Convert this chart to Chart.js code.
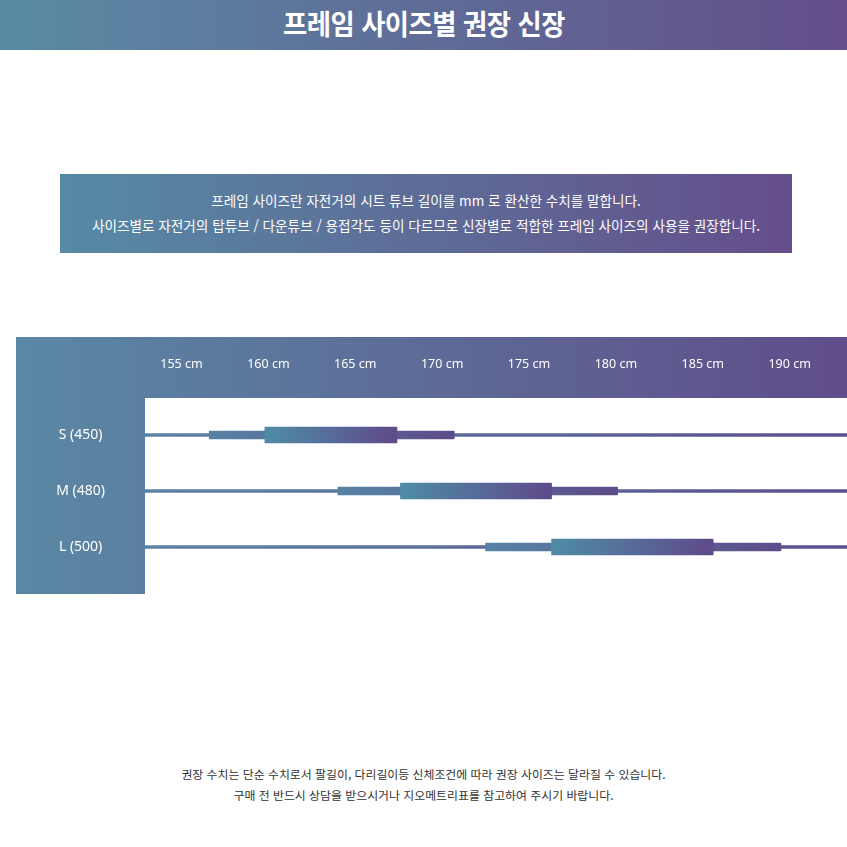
<!DOCTYPE html>
<html lang="ko">
<head>
<meta charset="utf-8">
<title>프레임 사이즈별 권장 신장</title>
<script src="https://cdn.jsdelivr.net/npm/chart.js@4.4.1/dist/chart.umd.min.js"></script>
<style>
  html, body { margin: 0; padding: 0; width: 847px; height: 847px; overflow: hidden; background: #fff;
    font-family: "Noto Sans CJK KR", "Noto Sans", sans-serif; }
  .title-bar { position: absolute; left: 0; top: 0; width: 847px; height: 50px;
    background: linear-gradient(90deg, #5a8ba4, #644e8a); color: #fff; font-weight: 700;
    font-size: 28px; line-height: 46px; text-align: center; }
  .title-bar span { display: inline-block; transform: scaleX(0.94); letter-spacing: -0.5px; }
  .info { position: absolute; left: 60px; top: 174px; width: 732px; height: 79px;
    background: linear-gradient(90deg, #568aa4, #654e8b); color: #fff; font-size: 13.6px; }
  .info p { position: absolute; left: 0; right: 0; margin: 0; text-align: center; line-height: 16px; }
  .chart-wrap { position: absolute; left: 16px; top: 337px; width: 831px; height: 257px; }
  .note { position: absolute; left: 0; width: 847px; top: 763px; text-align: center; color: #333;
    font-size: 11.9px; line-height: 21px; }
</style>
</head>
<body>
<div class="title-bar"><span>프레임 사이즈별 권장 신장</span></div>
<div class="info">
  <p style="top:18px">프레임 사이즈란 자전거의 시트 튜브 길이를 mm 로 환산한 수치를 말합니다.</p>
  <p style="top:43px">사이즈별로 자전거의 탑튜브 / 다운튜브 / 용접각도 등이 다르므로 신장별로 적합한 프레임 사이즈의 사용을 권장합니다.</p>
</div>
<div class="chart-wrap"><canvas id="sizeChart" width="831" height="257"></canvas></div>
<div class="note">
  권장 수치는 단순 수치로서 팔길이, 다리길이등 신체조건에 따라 권장 사이즈는 달라질 수 있습니다.<br>
  구매 전 반드시 상담을 받으시거나 지오메트리표를 참고하여 주시기 바랍니다.
</div>
<script>
// 사이즈별 권장 신장 (cm)
const sizes = ['S (450)', 'M (480)', 'L (500)'];
const heightTicks = [155, 160, 165, 170, 175, 180, 185, 190];
const axisRange = [152.9, 193.3];
const coreRange = [[159.8, 167.4], [167.6, 176.3], [176.3, 185.6]]; // 굵은 막대
const wideRange = [[156.6, 170.7], [164.0, 180.1], [172.5, 189.5]]; // 중간 막대
const baseLine = sizes.map(() => axisRange); // 가는 선

const BAND_HEIGHT = 61; // 위쪽 눈금 띠 높이

// 막대마다 왼쪽->오른쪽 그라데이션
function barGradient(from, to) {
    return function (context) {
        const chart = context.chart;
        const raw = context.raw;
        if (!chart.chartArea || !raw) return from;
        const xs = chart.scales.x;
        const g = chart.ctx.createLinearGradient(xs.getPixelForValue(raw[0]), 0, xs.getPixelForValue(raw[1]), 0);
        g.addColorStop(0, from);
        g.addColorStop(1, to);
        return g;
    };
}

// 배경: 그라데이션 틀 + 흰색 그래프 영역
const frameBackground = {
    id: 'frameBackground',
    beforeDraw(chart) {
        const { ctx, width, height, chartArea } = chart;
        const g = ctx.createLinearGradient(0, 0, width, 0);
        g.addColorStop(0, '#5a88a4');
        g.addColorStop(1, '#604d8a');
        ctx.save();
        ctx.fillStyle = g;
        ctx.fillRect(0, 0, width, height);
        ctx.fillStyle = '#ffffff';
        ctx.fillRect(chartArea.left, BAND_HEIGHT, width - chartArea.left, height - BAND_HEIGHT);
        ctx.restore();
    }
};

const ctx = document.getElementById('sizeChart').getContext('2d');
new Chart(ctx, {
    type: 'bar',
    data: {
        labels: sizes,
        datasets: [
            { data: coreRange, barThickness: 16, backgroundColor: barGradient('#4e8ca6', '#5f4a8a') },
            { data: wideRange, barThickness: 8, backgroundColor: barGradient('#5683a4', '#5d4c8b') },
            { data: baseLine, barThickness: 3, backgroundColor: barGradient('#5a84a4', '#5c4f8d') }
        ]
    },
    options: {
        indexAxis: 'y',
        responsive: false,
        animation: false,
        events: [],
        layout: { padding: { bottom: 19 } },
        datasets: { bar: { grouped: false, borderWidth: 0, borderRadius: 1 } },
        plugins: {
            legend: { display: false },
            tooltip: { enabled: false }
        },
        scales: {
            x: {
                type: 'linear',
                position: 'top',
                min: axisRange[0],
                max: axisRange[1],
                grid: { display: false, drawTicks: false },
                border: { display: false },
                afterBuildTicks: (scale) => { scale.ticks = heightTicks.map(v => ({ value: v })); },
                afterFit: (scale) => { scale.height = 70; },
                ticks: {
                    color: '#ffffff',
                    padding: 35,
                    maxRotation: 0,
                    font: { family: 'Noto Sans', size: 12.5 },
                    callback: (v) => v + ' cm'
                }
            },
            y: {
                grid: { display: false, drawTicks: false },
                border: { display: false },
                afterFit: (scale) => {
                    scale.width = 129;
                    scale.paddingTop = 0;
                    scale.paddingBottom = 0;
                },
                ticks: {
                    color: '#ffffff',
                    crossAlign: 'center',
                    padding: 40,
                    font: { family: 'Noto Sans', size: 14 }
                }
            }
        }
    },
    plugins: [frameBackground]
});
</script>
</body>
</html>
